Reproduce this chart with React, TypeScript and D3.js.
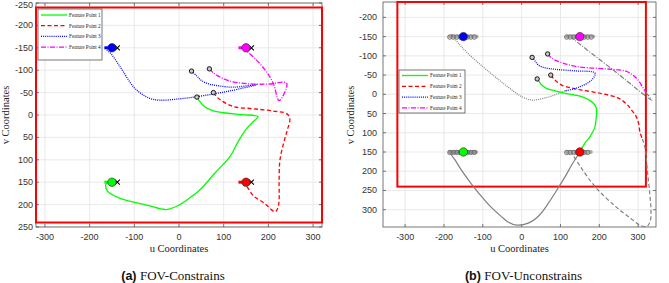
import React, { useEffect, useRef } from 'react';
import * as d3 from 'd3';

type Pt = [number, number];

const seriesNames = ['Feature Point 1', 'Feature Point 2', 'Feature Point 3', 'Feature Point 4'];
const seriesColors = ['#00ff00', '#ff0000', '#0000ff', '#ff00ff'];
const seriesDash = ['none', '4,2.5', '1,1.1', '5,1.5,1,1.5'];

// desired (final) image positions of the 4 feature points
const targets: Pt[] = [[-150, 150], [150, 150], [-150, -150], [150, -150]];

// (a) FOV-constrained trajectories
const trajA: Pt[][] = [
  [[40, -40], [48, -28], [58, -18], [75, -10], [100, -5], [140, -1], [177, 4], [165, 16], [150, 32], [132, 60],
    [114, 93], [80, 130], [47, 167], [20, 188], [2, 200], [-28, 211], [-72, 201], [-132, 186], [-160, 170],
    [-164, 156], [-160, 150]],
  [[77, -50], [85, -40], [95, -32], [121, -19], [166, -14], [210, -9], [241, -3], [248, 8], [242, 35], [237, 52],
    [226, 100], [224, 150], [224, 190], [221, 208], [215, 216], [190, 196], [166, 180], [152, 160], [142, 150]],
  [[28, -98], [40, -87], [50, -77], [68, -69], [90, -65], [121, -62], [174, -68], [110, -53], [40, -41], [0, -36],
    [-42, -33], [-65, -37], [-85, -48], [-102, -63], [-132, -108], [-150, -134], [-163, -148], [-158, -150]],
  [[68, -103], [76, -95], [86, -88], [102, -80], [121, -74], [166, -69], [200, -69], [241, -71], [224, -32],
    [211, -71], [196, -96], [174, -122], [151, -143], [142, -150]],
];

// (b) unconstrained: coloured part, then grey continuation
const trajB: Pt[][] = [
  [[40, -40], [46, -32], [52, -24], [65, -15], [86, -9], [110, -3], [137, 2], [160, 8], [180, 19], [190, 30],
    [193, 41], [192, 60], [189, 84], [176, 110], [163, 127], [150, 149]],
  [[75, -50], [85, -38], [103, -24], [130, -16], [155, -11], [206, -2], [249, 10], [270, 25], [283, 41],
    [295, 58], [301, 75], [305, 100], [311, 116]],
  [[27, -96], [35, -86], [43, -76], [60, -69], [86, -65], [137, -61], [189, -55], [180, -37], [146, -18], [112, -9]],
  [[67, -105], [75, -96], [86, -89], [110, -80], [137, -73], [170, -69], [206, -67], [240, -64], [266, -61],
    [285, -51], [300, -37], [313, -16], [320, -5]],
];

const grayB: Pt[][] = [
  [[150, 150], [130, 182], [112, 214], [90, 250], [69, 283], [45, 315], [17, 335], [-13, 340], [-35, 332],
    [-52, 318], [-80, 292], [-103, 266], [-130, 232], [-155, 197], [-172, 170], [-181, 156], [-176, 150]],
  [[311, 116], [318, 140], [324, 200], [330, 260], [333, 300], [331, 330], [322, 344], [305, 340], [280, 322],
    [240, 290], [189, 240], [150, 186], [132, 158]],
  [[112, -9], [90, 0], [69, 7], [45, 13], [26, 15], [0, 6], [-30, -15], [-69, -46], [-100, -72], [-138, -106],
    [-162, -132], [-181, -156], [-176, -150]],
  [[320, -5], [335, 15], [236, -63], [137, -141], [128, -150]],
];

// grey marker clusters around the targets in (b): [uFrom, uTo]
const clusterB: Pt[] = [[-185, -118], [116, 178], [-185, -116], [116, 184]];

const xTicks = [-300, -200, -100, 0, 100, 200, 300];
const yTicksA = [-250, -200, -150, -100, -50, 0, 50, 100, 150, 200, 250];
const yTicksB = [-200, -150, -100, -50, 0, 50, 100, 150, 200, 250, 300];
const fovU: Pt = [-320, 320];
const fovV: Pt = [-240, 240];

interface PanelCfg {
  left: number; right: number; top: number; bottom: number;
  uDomain: Pt; vDomain: Pt; yTicks: number[];
  legend: Pt; ylabelX: number; label: string; title: string;
}

const SANS = 'Liberation Sans, Arial, sans-serif';
const SERIF = 'Liberation Serif, Times New Roman, serif';

const App: React.FC = () => {
  const svgRef = useRef<SVGSVGElement | null>(null);

  useEffect(() => {
    document.body.style.margin = '0';
    if (!svgRef.current) return;
    const svg = d3.select(svgRef.current);
    svg.selectAll('*').remove();

    const panels: PanelCfg[] = [
      { left: 36, right: 322, top: 3, bottom: 227, uDomain: [-320, 320], vDomain: [-250, 250], yTicks: yTicksA,
        legend: [38, 9], ylabelX: 9, label: '(a)', title: 'FOV-Constrains' },
      { left: 383, right: 656, top: 2, bottom: 227, uDomain: [-357, 346], vDomain: [-240, 345], yTicks: yTicksB,
        legend: [399, 70], ylabelX: 354, label: '(b)', title: 'FOV-Unconstrains' },
    ];

    panels.forEach((p, pi) => {
      const x = d3.scaleLinear().domain(p.uDomain).range([p.left, p.right]);
      const y = d3.scaleLinear().domain(p.vDomain).range([p.top, p.bottom]);
      const g = svg.append('g');

      // grid
      g.selectAll('.gx').data(xTicks).enter().append('line')
        .attr('x1', d => x(d)).attr('x2', d => x(d)).attr('y1', p.top).attr('y2', p.bottom)
        .attr('stroke', '#e3e3e3').attr('stroke-width', 0.8);
      g.selectAll('.gy').data(p.yTicks).enter().append('line')
        .attr('y1', d => y(d)).attr('y2', d => y(d)).attr('x1', p.left).attr('x2', p.right)
        .attr('stroke', '#e3e3e3').attr('stroke-width', 0.8);

      // axes box + inward ticks
      g.append('rect').attr('x', p.left).attr('y', p.top)
        .attr('width', p.right - p.left).attr('height', p.bottom - p.top)
        .attr('fill', 'none').attr('stroke', '#555').attr('stroke-width', 0.8);
      xTicks.forEach(t => {
        g.append('line').attr('x1', x(t)).attr('x2', x(t)).attr('y1', p.bottom).attr('y2', p.bottom - 3)
          .attr('stroke', '#555').attr('stroke-width', 0.8);
        g.append('line').attr('x1', x(t)).attr('x2', x(t)).attr('y1', p.top).attr('y2', p.top + 3)
          .attr('stroke', '#555').attr('stroke-width', 0.8);
      });
      p.yTicks.forEach(t => {
        g.append('line').attr('x1', p.left).attr('x2', p.left + 3).attr('y1', y(t)).attr('y2', y(t))
          .attr('stroke', '#555').attr('stroke-width', 0.8);
        g.append('line').attr('x1', p.right).attr('x2', p.right - 3).attr('y1', y(t)).attr('y2', y(t))
          .attr('stroke', '#555').attr('stroke-width', 0.8);
      });

      g.selectAll('.xt').data(xTicks).enter().append('text')
        .attr('x', d => x(d)).attr('y', p.bottom + 13).attr('text-anchor', 'middle')
        .style('font-family', SANS).style('font-size', '9px').style('fill', '#333')
        .text(d => String(d));
      g.selectAll('.yt').data(p.yTicks).enter().append('text')
        .attr('x', p.left - (pi === 0 ? 3 : 6)).attr('y', d => Math.max(y(d) + 3, 8)).attr('text-anchor', 'end')
        .style('font-family', SANS).style('font-size', '9px').style('fill', '#333')
        .text(d => String(d));

      g.append('text').attr('x', (p.left + p.right) / 2).attr('y', 252).attr('text-anchor', 'middle')
        .style('font-family', SERIF).style('font-size', '10.5px').style('fill', '#222')
        .text('u Coordinates');
      g.append('text').attr('transform', `translate(${p.ylabelX},115) rotate(-90)`).attr('text-anchor', 'middle')
        .style('font-family', SERIF).style('font-size', '10.5px').style('fill', '#222')
        .text('v Coordinates');

      const title = g.append('text').attr('x', (p.left + p.right) / 2 + (pi === 0 ? -6 : 4)).attr('y', 280)
        .attr('text-anchor', 'middle').style('fill', '#111');
      title.append('tspan').style('font-family', SANS).style('font-weight', 'bold').style('font-size', '12.5px')
        .text(p.label + ' ');
      title.append('tspan').style('font-family', SERIF).style('font-size', '13px').text(p.title);

      // FOV rectangle
      g.append('rect').attr('x', x(fovU[0])).attr('y', y(fovV[0]))
        .attr('width', x(fovU[1]) - x(fovU[0])).attr('height', y(fovV[1]) - y(fovV[0]))
        .attr('fill', 'none').attr('stroke', '#ff0000').attr('stroke-width', 2);

      const line = d3.line<Pt>().x(d => x(d[0])).y(d => y(d[1])).curve(d3.curveCatmullRom.alpha(0.5));

      if (pi === 1) {
        // grey clusters
        clusterB.forEach((c, i) => {
          const v = targets[i][1];
          g.append('line').attr('x1', x(c[0])).attr('x2', x(c[1])).attr('y1', y(v)).attr('y2', y(v))
            .attr('stroke', '#8c8c8c').attr('stroke-width', 4).attr('stroke-linecap', 'round')
            .attr('opacity', i === 0 ? 0.95 : 0.7);
          g.selectAll(`.cm${i}`).data(d3.range(c[0], c[1], 9)).enter().append('circle')
            .attr('cx', d => x(d)).attr('cy', y(v) + 0.5).attr('r', 2.2)
            .attr('fill', 'none').attr('stroke', '#6e6e6e').attr('stroke-width', 0.9);
        });
        // grey continuations
        grayB.forEach((pts, i) => {
          g.append('path').attr('d', line(pts) || '').attr('fill', 'none')
            .attr('stroke', '#808080').attr('stroke-width', 1.2)
            .attr('stroke-dasharray', seriesDash[i]);
        });
      }

      const traj = pi === 0 ? trajA : trajB;
      traj.forEach((pts, i) => {
        g.append('path').attr('d', line(pts) || '').attr('fill', 'none')
          .attr('stroke', seriesColors[i]).attr('stroke-width', 1.3)
          .attr('stroke-dasharray', seriesDash[i]);
      });

      if (pi === 0) {
        targets.forEach((t, i) => {
          // short thick stub and x-marker beside the final point
          g.append('line').attr('x1', x(t[0] - 17)).attr('x2', x(t[0] - 9)).attr('y1', y(t[1])).attr('y2', y(t[1]))
            .attr('stroke', seriesColors[i]).attr('stroke-width', 3);
          const cx = x(t[0] + 12), cy = y(t[1]);
          g.append('path').attr('d', `M${cx - 2.5},${cy - 2.5}L${cx + 2.5},${cy + 2.5}M${cx - 2.5},${cy + 2.5}L${cx + 2.5},${cy - 2.5}`)
            .attr('stroke', '#000').attr('stroke-width', 1.1);
        });
      }

      // start markers
      traj.forEach(pts => {
        g.append('circle').attr('cx', x(pts[0][0])).attr('cy', y(pts[0][1])).attr('r', 2.2)
          .attr('fill', '#c8c8c8').attr('stroke', '#000').attr('stroke-width', 0.9);
      });

      // target points
      targets.forEach((t, i) => {
        g.append('circle').attr('cx', x(t[0])).attr('cy', y(t[1])).attr('r', 4.2)
          .attr('fill', seriesColors[i]).attr('stroke', '#222').attr('stroke-width', 0.6);
      });

      // legend
      const [lx, ly] = p.legend;
      g.append('rect').attr('x', lx).attr('y', ly).attr('width', pi === 0 ? 64 : 66).attr('height', pi === 0 ? 51 : 43)
        .attr('fill', '#fff').attr('stroke', '#555').attr('stroke-width', 0.8);
      const step = pi === 0 ? 10.7 : 10.8;
      seriesNames.forEach((name, i) => {
        const yy = ly + (pi === 0 ? 6 : 5.5) + i * step;
        g.append('line').attr('x1', lx + 3).attr('x2', lx + 29).attr('y1', yy).attr('y2', yy)
          .attr('stroke', seriesColors[i]).attr('stroke-width', 1.3).attr('stroke-dasharray', seriesDash[i]);
        g.append('text').attr('x', lx + 31).attr('y', yy + 1.8)
          .style('font-family', SERIF).style('font-size', '5.2px').style('fill', '#222').text(name);
      });
    });
  }, []);

  return (
    <div style={{ width: 669, height: 283 }}>
      <svg ref={svgRef} width={669} height={283} style={{ display: 'block', background: '#fff' }}></svg>
    </div>
  );
};

export default App;
